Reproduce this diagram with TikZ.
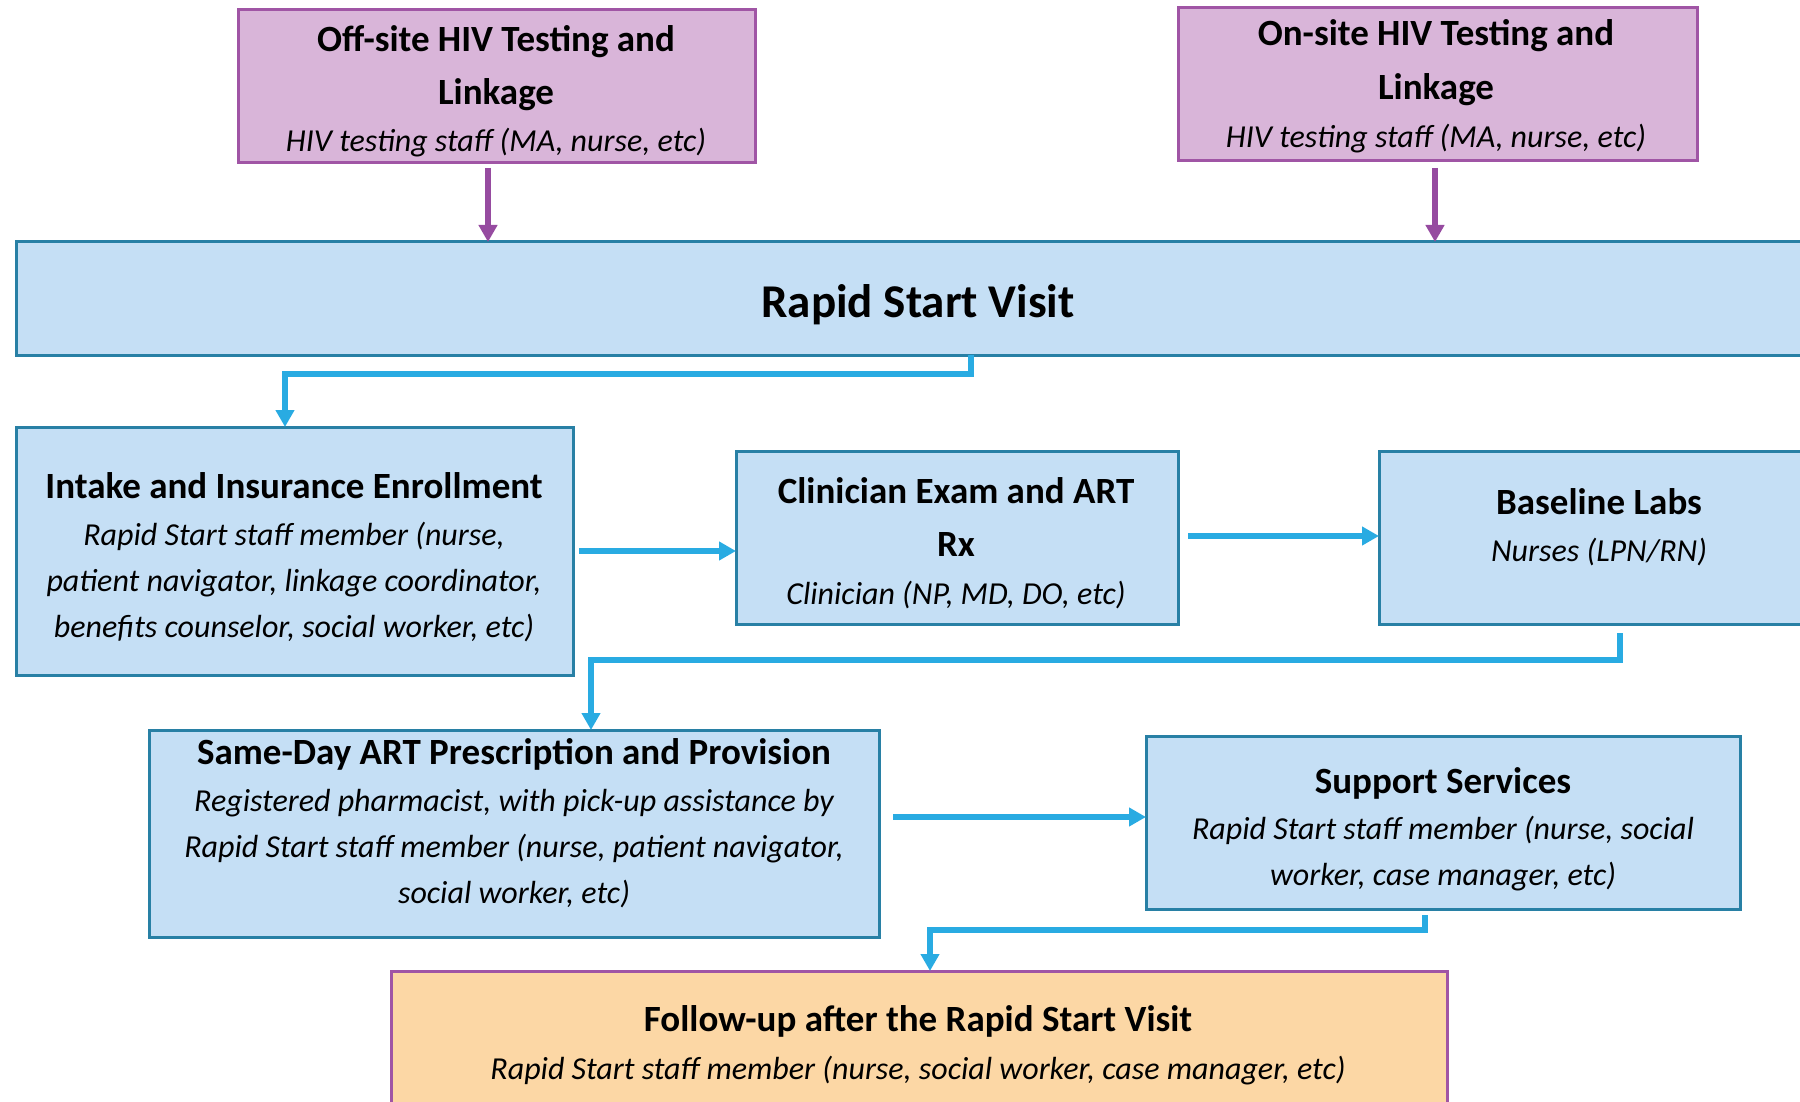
\documentclass[tikz,border=0pt]{standalone}
\usepackage{fontspec}
\setmainfont{Carlito}
\usetikzlibrary{arrows.meta}
\definecolor{pfill}{RGB}{217,181,217}
\definecolor{pdraw}{RGB}{160,85,165}
\definecolor{parr}{RGB}{150,75,160}
\definecolor{bfill}{RGB}{197,223,245}
\definecolor{bdraw}{RGB}{40,128,165}
\definecolor{barr}{RGB}{41,171,226}
\definecolor{ofill}{RGB}{252,215,165}
\begin{document}
\begin{tikzpicture}[x=1pt,y=-1pt,
  pbox/.style={draw=pdraw,fill=pfill,line width=3pt,inner sep=0,outer sep=0},
  bbox/.style={draw=bdraw,fill=bfill,line width=3pt,inner sep=0,outer sep=0},
  obox/.style={draw=pdraw,fill=ofill,line width=3pt,inner sep=0,outer sep=0},
  hd/.style={font=\fontsize{37}{37}\selectfont\bfseries,anchor=base,inner sep=0},
  it/.style={font=\fontsize{32}{32}\selectfont\itshape,anchor=base,inner sep=0},
  parrow/.style={draw=parr,line width=6pt,-{Triangle[length=17pt,width=18pt]}},
  barrow/.style={draw=barr,line width=6pt,-{Triangle[length=17pt,width=18pt]}}]
\useasboundingbox (0,0) rectangle (1800,1102);
\clip (0,0) rectangle (1800,1102);
% boxes
\node[pbox,minimum width=517pt,minimum height=153pt] (offsite) at (496.5,86.5) {};
\node[pbox,minimum width=519pt,minimum height=153pt] (onsite) at (1437.5,84.5) {};
\node[bbox,minimum width=1804pt,minimum height=113pt] (rsv) at (918,298.5) {};
\node[bbox,minimum width=557pt,minimum height=248pt] (intake) at (294.5,551) {};
\node[bbox,minimum width=442pt,minimum height=173pt] (clin) at (957,537.5) {};
\node[bbox,minimum width=441pt,minimum height=173pt] (base) at (1599.5,537.5) {};
\node[bbox,minimum width=730pt,minimum height=207pt] (same) at (514,833.5) {};
\node[bbox,minimum width=594pt,minimum height=173pt] (supp) at (1443,822.5) {};
\node[obox,minimum width=1056pt,minimum height=160pt] (follow) at (919,1051) {};
% texts
\node[hd] (t1) at (496,52) {Off-site HIV Testing and};
\node[hd] (t2) at (496,105) {Linkage};
\node[it] (t3) at (496,152) {HIV testing staff (MA, nurse, etc)};
\node[hd] (t4) at (1436,46) {On-site HIV Testing and};
\node[hd] (t5) at (1436,100) {Linkage};
\node[it] (t6) at (1436,148) {HIV testing staff (MA, nurse, etc)};
\node[anchor=base,inner sep=0,font=\fontsize{47}{47}\selectfont\bfseries] (t7) at (918,317) {Rapid Start Visit};
\node[hd] (t8) at (294,498) {Intake and Insurance Enrollment};
\node[it] (t9) at (294,545) {Rapid Start staff member (nurse,};
\node[it] (t10) at (294,591) {patient navigator, linkage coordinator,};
\node[it] (t11) at (294,637) {benefits counselor, social worker, etc)};
\node[hd] (t12) at (956,503) {Clinician Exam and ART};
\node[hd] (t13) at (956,556) {Rx};
\node[it] (t14) at (956,604) {Clinician (NP, MD, DO, etc)};
\node[hd] (t15) at (1599,514) {Baseline Labs};
\node[it] (t16) at (1599,561) {Nurses (LPN/RN)};
\node[hd] (t17) at (514,764) {Same-Day ART Prescription and Provision};
\node[it] (t18) at (514,811) {Registered pharmacist, with pick-up assistance by};
\node[it] (t19) at (514,857) {Rapid Start staff member (nurse, patient navigator,};
\node[it] (t20) at (514,903) {social worker, etc)};
\node[hd] (t21) at (1443,793) {Support Services};
\node[it] (t22) at (1443,839) {Rapid Start staff member (nurse, social};
\node[it] (t23) at (1443,885) {worker, case manager, etc)};
\node[hd] (t24) at (918,1031) {Follow-up after the Rapid Start Visit};
\node[it] (t25) at (918,1079) {Rapid Start staff member (nurse, social worker, case manager, etc)};
% reference x/y coordinates for connectors
\coordinate (ax1) at (488,0);
\coordinate (ax2) at (1435,0);
\coordinate (bx1) at (971,0);
\coordinate (bx2) at (285,0);
\coordinate (cy1) at (0,551);
\coordinate (cy2) at (0,536);
\coordinate (dx1) at (1620,0);
\coordinate (dx2) at (591,0);
\coordinate (cy3) at (0,817);
\coordinate (ex1) at (1425,0);
\coordinate (ex2) at (930,0);
% connectors
\draw[parrow] ([yshift=-5pt]offsite.south -| ax1) -- (rsv.north -| ax1);
\draw[parrow] ([yshift=-7pt]onsite.south -| ax2) -- (rsv.north -| ax2);
\draw[barrow] (rsv.south -| bx1) -- ++(0,19) -| (intake.north -| bx2);
\draw[barrow] ([xshift=6pt]intake.east |- cy1) -- (clin.west |- cy1);
\draw[barrow] ([xshift=10pt]clin.east |- cy2) -- (base.west |- cy2);
\draw[barrow] ([yshift=-9pt]base.south -| dx1) -- ++(0,27) -| (same.north -| dx2);
\draw[barrow] ([xshift=14pt]same.east |- cy3) -- (supp.west |- cy3);
\draw[barrow] ([yshift=-6pt]supp.south -| ex1) -- ++(0,15) -| (follow.north -| ex2);
\end{tikzpicture}
\end{document}
